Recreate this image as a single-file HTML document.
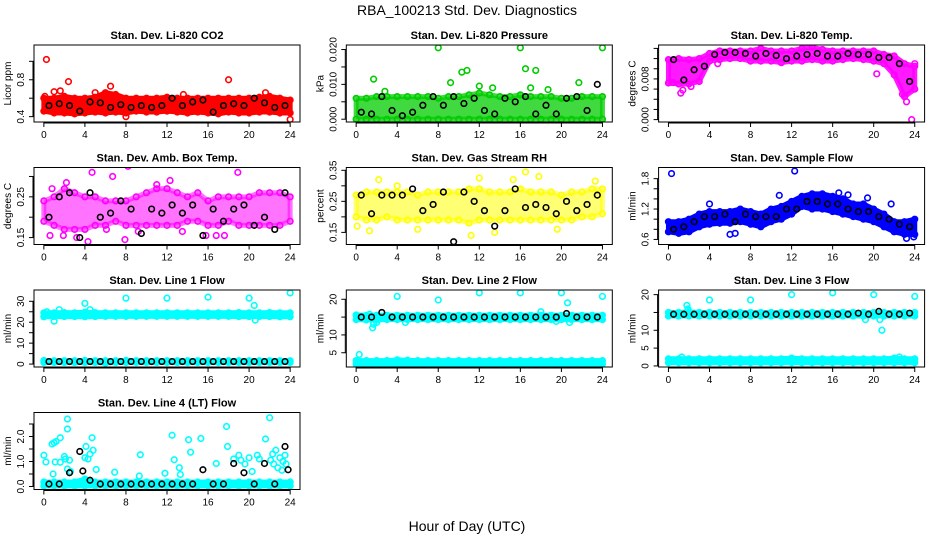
<!DOCTYPE html>
<html><head><meta charset="utf-8">
<style>
html,body{margin:0;padding:0;background:#fff;}
svg{display:block;font-family:"Liberation Sans",sans-serif;}
</style></head>
<body>
<svg id="chart" width="936" height="540" viewBox="0 0 936 540" xmlns="http://www.w3.org/2000/svg">
<rect x="0" y="0" width="936" height="540" fill="#fff"/>
<text x="467" y="15" text-anchor="middle" font-size="14">RBA_100213  Std. Dev. Diagnostics</text>
<text x="467" y="531" text-anchor="middle" font-size="14">Hour of Day (UTC)</text>
</svg>
<script>
const hours = [0,1,2,3,4,5,6,7,8,9,10,11,12,13,14,15,16,17,18,19,20,21,22,23,24];
const blackHours = [0.5,1.5,2.5,3.5,4.5,5.5,6.5,7.5,8.5,9.5,10.5,11.5,12.5,13.5,14.5,15.5,16.5,17.5,18.5,19.5,20.5,21.5,22.5,23.5];
const xTicks = [0,4,8,12,16,20,24];

// Panel 1 CO2
const co2Hi = [0.6,0.6,0.62,0.6,0.6,0.61,0.66,0.64,0.6,0.6,0.6,0.6,0.61,0.6,0.6,0.6,0.6,0.6,0.6,0.6,0.6,0.61,0.62,0.6,0.58];
const co2Lo = [0.46,0.44,0.44,0.43,0.44,0.45,0.44,0.45,0.44,0.46,0.45,0.45,0.46,0.45,0.44,0.45,0.44,0.43,0.45,0.44,0.44,0.45,0.45,0.44,0.44];
const co2Black = [0.52,0.54,0.52,0.46,0.56,0.55,0.5,0.53,0.5,0.52,0.5,0.52,0.6,0.52,0.56,0.58,0.45,0.52,0.54,0.52,0.6,0.55,0.5,0.52];
const co2Out = [[0.25,1.02],[2.4,0.78],[18,0.8],[6.5,0.73],[1,0.67],[1.6,0.68],[0.1,0.62],[8,0.4],[24,0.37],[5,0.66],[21.6,0.66],[13.6,0.64]];
const co2Ticks = [0.4,0.6,0.8,1.0];
const co2Labels = [0.4,0.8];

// Panel 2 Pressure
const presHi = [0.006,0.006,0.0065,0.0065,0.0065,0.0065,0.0065,0.0065,0.006,0.0065,0.0065,0.007,0.0075,0.007,0.0065,0.0065,0.007,0.0065,0.0065,0.0065,0.006,0.006,0.0065,0.0065,0.0065];
const presLo = [0,0,0,0,0,0,0,0,0,0,0,0,0,0,0,0,0,0,0,0,0,0,0,0,0];
const presBlack = [0.002,0.0015,0.0065,0.0025,0.001,0.002,0.004,0.0065,0.004,0.0065,0.0045,0.006,0.0025,0.0015,0.006,0.005,0.0065,0.0015,0.004,0.0015,0.006,0.0065,0.0025,0.01];
const presOut = [[8,0.0205],[16,0.0205],[24,0.0205],[16.5,0.0145],[17.5,0.014],[10.3,0.0135],[10.8,0.014],[9.2,0.0105],[1.7,0.0115],[21.7,0.0105],[12,0.0095],[13.3,0.009],[17,0.009],[18.7,0.0085],[2.8,0.008]];
const presTicks = [0,0.005,0.01,0.015,0.02];
const presLabels = [0,0.01,0.02];

// Panel 3 Li-820 temp
const ltHi = [0.0118,0.012,0.0118,0.012,0.013,0.0135,0.0135,0.0135,0.0135,0.014,0.0135,0.0135,0.0135,0.014,0.0142,0.0138,0.0135,0.0135,0.0135,0.0135,0.0135,0.0128,0.0125,0.011,0.0105];
const ltLo = [0.0072,0.007,0.007,0.0075,0.0115,0.0118,0.012,0.012,0.0115,0.0115,0.0115,0.0112,0.0115,0.0115,0.0118,0.0115,0.0115,0.0118,0.012,0.0118,0.0115,0.011,0.0088,0.0045,0.006];
const ltBlack = [0.0118,0.0078,0.0098,0.0105,0.0128,0.0132,0.0132,0.013,0.0125,0.013,0.0126,0.012,0.0125,0.0128,0.013,0.0125,0.0125,0.013,0.0128,0.0128,0.0122,0.0122,0.011,0.0075];
const ltOut = [[23.7,0],[1.2,0.0052],[1.4,0.0058],[2.2,0.0065],[23.2,0.0035],[22.8,0.005],[0.4,0.0073],[4.8,0.011],[20.3,0.009],[24,0.011]];
const ltTicks = [0,0.002,0.004,0.006,0.008,0.01,0.012,0.014];
const ltLabels = [0,0.008];

// Panel 4 Amb box temp
const abHi = [0.24,0.25,0.27,0.26,0.25,0.25,0.24,0.24,0.24,0.25,0.26,0.27,0.27,0.26,0.25,0.26,0.24,0.25,0.25,0.25,0.25,0.26,0.26,0.26,0.25];
const abLo = [0.19,0.18,0.17,0.17,0.17,0.18,0.18,0.19,0.18,0.18,0.18,0.18,0.18,0.18,0.19,0.19,0.18,0.18,0.19,0.18,0.18,0.18,0.18,0.18,0.19];
const abBlack = [0.2,0.25,0.26,0.15,0.26,0.2,0.21,0.24,0.22,0.16,0.22,0.21,0.23,0.21,0.23,0.155,0.22,0.19,0.22,0.23,0.18,0.2,0.17,0.26];
const abOut = [[4.7,0.31],[6.7,0.3],[8.2,0.325],[18.9,0.31],[12.3,0.29],[2.2,0.285],[0.8,0.27],[11,0.28],[0.6,0.155],[1.9,0.155],[4.3,0.14],[7.9,0.145],[3.2,0.15],[9.2,0.165],[15.8,0.155],[16.8,0.155],[17.6,0.155],[13.5,0.165],[6.1,0.17]];
const abTicks = [0.15,0.2,0.25,0.3];
const abLabels = [0.15,0.25];

// Panel 5 RH
const rhHi = [0.27,0.28,0.28,0.28,0.28,0.28,0.27,0.28,0.28,0.28,0.28,0.29,0.29,0.28,0.28,0.28,0.29,0.28,0.28,0.28,0.27,0.28,0.28,0.29,0.29];
const rhLo = [0.2,0.19,0.19,0.2,0.19,0.19,0.19,0.19,0.19,0.19,0.19,0.18,0.19,0.19,0.19,0.19,0.19,0.19,0.19,0.19,0.19,0.19,0.2,0.2,0.21];
const rhBlack = [0.27,0.21,0.27,0.27,0.27,0.29,0.22,0.24,0.28,0.12,0.28,0.25,0.22,0.17,0.22,0.29,0.23,0.24,0.23,0.21,0.25,0.22,0.24,0.27];
const rhOut = [[16.5,0.345],[17.8,0.33],[12,0.325],[2.2,0.32],[23.3,0.315],[15.3,0.32],[1.3,0.155],[11.2,0.14],[13.5,0.15],[6,0.16],[19.6,0.16],[0.1,0.17],[4,0.3]];
const rhTicks = [0.15,0.2,0.25,0.3,0.35];
const rhLabels = [0.15,0.25,0.35];

// Panel 6 Sample flow
const sfHi = [0.95,0.95,1.0,1.1,1.15,1.15,1.15,1.2,1.15,1.1,1.2,1.25,1.35,1.45,1.5,1.5,1.45,1.4,1.3,1.3,1.2,1.1,0.95,0.95,1.0];
const sfLo = [0.75,0.72,0.75,0.85,0.9,0.92,0.92,0.95,0.9,0.85,0.95,1.0,1.1,1.25,1.2,1.2,1.15,1.1,1.05,1.0,0.95,0.85,0.75,0.7,0.7];
const sfBlack = [0.8,0.85,0.95,1.05,1.05,1.1,0.95,1.1,1.05,1.05,1.05,1.2,1.2,1.35,1.35,1.3,1.3,1.2,1.15,1.15,1.05,1.0,0.9,0.85];
const sfOut = [[0.3,1.9],[12.3,1.95],[10.8,1.47],[16.6,1.52],[17.5,1.48],[19.4,1.42],[21.7,1.3],[6,0.7],[6.5,0.72],[23.2,0.62],[23.9,0.65],[4,1.3]];
const sfTicks = [0.6,0.8,1.0,1.2,1.4,1.6,1.8];
const sfLabels = [0.6,1.2,1.8];

// Panel 7 Line 1
const l1Hi = [24.5,24.5,24.6,24.5,24.8,24.6,24.5,24.5,24.5,24.5,24.5,24.5,24.5,24.5,24.5,24.5,24.5,24.5,24.5,24.6,24.5,24.5,24.6,24.5,24.5];
const l1Lo = [22.6,22.7,22.7,22.7,22.6,22.7,22.8,22.8,22.8,22.8,22.8,22.8,22.8,22.8,22.8,22.8,22.8,22.8,22.8,22.7,22.7,22.7,22.7,22.6,22.6];
const l1Hi2 = [1.7,1.6,1.6,1.6,1.7,1.6,1.6,1.6,1.7,1.6,1.6,1.6,1.6,1.6,1.6,1.6,1.6,1.6,1.6,1.6,1.6,1.6,1.6,1.6,1.6];
const l1Lo2 = [0.8,0.8,0.8,0.8,0.8,0.8,0.5,0.8,0.8,0.8,0.8,0.8,0.8,0.8,0.8,0.8,0.8,0.8,0.8,0.8,0.8,0.8,0.8,0.8,0.8];
const l1Black = [1.2,1.2,1.2,1.2,1.2,1.2,1.2,1.2,1.2,1.2,1.2,1.2,1.2,1.2,1.2,1.2,1.2,1.2,1.2,1.2,1.2,1.2,1.2,1.2];
const l1Out = [[0.3,25],[1,20.5],[1.5,26],[4,29],[4.5,26],[8,31.5],[12,31.5],[16,32],[20,31.5],[20.5,28],[20.6,21],[24,34]];
const l1Ticks = [0,5,10,15,20,25,30];
const l1Labels = [0,10,20,30];

// Panel 8 Line 2
const l2Hi = [15.6,15.5,15.5,15.5,15.5,15.5,15.5,15.5,15.5,15.5,15.5,15.5,15.5,15.5,15.5,15.5,15.5,15.5,15.5,15.5,15.5,15.5,15.5,15.5,15.5];
const l2Lo = [14.3,14.2,14.2,14.3,14.3,14.3,14.3,14.3,14.3,14.3,14.3,14.3,14.3,14.3,14.3,14.3,14.3,14.3,14.3,14.3,14.3,14.3,14.3,14.3,14.3];
const l2Hi2 = [2.8,2.8,2.8,2.8,3.0,2.9,2.8,2.8,2.8,2.8,2.8,2.8,2.8,2.8,2.8,2.8,2.8,2.8,2.8,2.8,2.8,2.8,2.8,2.8,2.8];
const l2Lo2 = [1.8,1.8,1.8,1.8,1.8,1.8,1.8,1.8,1.8,1.8,1.8,1.8,1.8,1.8,1.8,1.8,1.8,1.8,1.8,1.8,1.8,1.8,1.8,1.8,1.8];
const l2Black = [15,15,16.3,15,15,15,15,15,15,15,15,15,15,15,15,15,15,15,15,15,16,15,15,15];
const l2Out = [[0.3,4.5],[1.6,12],[1.7,13],[2,13.5],[4,20.8],[4.8,13.5],[8,19.8],[12,21.8],[16,21.8],[18,16.5],[19.5,13.8],[20,21.8],[20.6,19],[20.8,13.5],[24,20.8],[0,15.5],[1.3,15.8]];
const l2Ticks = [5,10,15,20];
const l2Labels = [5,10,20];

// Panel 9 Line 3
const l3Hi = [15,15,15.2,15,15,15,15,15,15,15,15,15,15,15,15,15,15,15,15,15,15,15,15,15,15];
const l3Lo = [14,14,14,14,14,14,14,14,14,14,14,14,14,14,14,14,14,14,14,14,14,14,14,14,14];
const l3Hi2 = [2,2,2,2,2,2,2,2,2,2,2,2,2.2,2,2,2,2,2,2,2,2,2,2.2,2,2];
const l3Lo2 = [0.9,0.9,0.9,0.9,0.9,0.9,0.9,0.9,0.9,0.9,0.9,0.9,0.9,0.9,0.9,0.9,0.9,0.9,0.9,0.9,0.9,0.9,0.9,0.9,0.9];
const l3Black = [14.5,14.5,14.5,14.5,14.5,14.5,14.5,14.5,14.5,14.5,14.5,14.5,14.5,14.5,14.5,14.5,14.5,14.5,14.8,14.5,15.3,14.5,14.5,14.8];
const l3Out = [[1.8,17],[1.9,16],[4,18.5],[8,18.5],[12,20],[16,20.5],[20,20],[24,19.5],[20.8,10],[19.2,13],[20.6,13],[1.3,2.5],[22.5,2.5],[1.9,15.8]];
const l3Ticks = [0,5,10,15,20];
const l3Labels = [0,5,10,20];

// Panel 10 Line 4
const l4Hi = [0.18,0.18,0.18,0.18,0.3,0.18,0.18,0.18,0.18,0.18,0.18,0.18,0.18,0.18,0.18,0.18,0.18,0.18,0.18,0.18,0.18,0.18,0.18,0.18,0.18];
const l4Lo = [0.02,0.02,0.02,0.02,0.02,0.02,0.02,0.02,0.02,0.02,0.02,0.02,0.02,0.02,0.02,0.02,0.02,0.02,0.02,0.02,0.02,0.02,0.02,0.02,0.02];
const l4Black = [0.1,0.1,0.55,1.4,0.25,0.1,0.1,0.1,0.1,0.1,0.1,0.1,0.1,0.1,0.1,0.67,0.1,0.1,0.92,0.55,0.1,0.92,0.1,1.6];
const l4Out = [[0,1.25],[0.2,0.98],[0.8,1.7],[1,1.75],[1.2,1.8],[1.6,1.95],[0.9,0.5],[1.1,0.98],[1.6,0.97],[2,1.2],[2.1,1.1],[2.3,2.7],[2.3,2.3],[2.5,1.05],[2.3,0.7],[2.6,0.6],[4.1,1.6],[4.3,1.1],[4,1.15],[4.5,1.3],[4.7,1.95],[4.8,1.45],[5.1,0.68],[6.9,0.57],[9.3,0.42],[9.4,1.27],[11.8,0.53],[12.5,2.05],[12.7,1.07],[13.2,0.75],[13.3,0.48],[14.1,1.87],[14.3,1.37],[15.3,1.92],[16.8,0.92],[17.8,2.4],[17.9,1.6],[18.5,1.1],[19,1.25],[19.2,1.05],[19.6,0.9],[20,1.15],[20.3,0.6],[20.8,1.25],[21,1.1],[21.6,1.9],[22,2.75],[22.1,1.05],[22.4,0.9],[22.6,1.45],[22.8,0.75],[23,1.15],[23.3,1.0],[23.5,1.25],[23.6,0.9],[23.2,0.65],[22.3,1.3]];
const l4BlackOut = [[3.8,0.62],[23.8,0.67]];
const l4Ticks = [0,0.5,1.0,1.5,2.0,2.5];
const l4Labels = [0,1,2];

const panels = [
 {name:'co2',title:'Stan. Dev. Li-820 CO2',ylab:'Licor ppm',col:'#ff0000',op:1,ylim:[0.342,1.177],bands:[[co2Lo,co2Hi]],black:co2Black,out:co2Out,ticks:co2Ticks,labels:co2Labels,dec:1},
 {name:'pressure',title:'Stan. Dev. Li-820 Pressure',ylab:'kPa',col:'#00cc00',op:0.75,ylim:[-0.0008,0.0213],bands:[[presLo,presHi]],black:presBlack,out:presOut,ticks:presTicks,labels:presLabels,dec:3},
 {name:'li820-temp',title:'Stan. Dev. Li-820 Temp.',ylab:'degrees C',col:'#ff00ff',op:0.9,ylim:[-0.00047,0.01467],bands:[[ltLo,ltHi]],black:ltBlack,out:ltOut,ticks:ltTicks,labels:ltLabels,dec:3},
 {name:'amb-box-temp',title:'Stan. Dev. Amb. Box Temp.',ylab:'degrees C',col:'#ff00ff',op:0.55,ylim:[0.133,0.322],bands:[[abLo,abHi]],black:abBlack,out:abOut,ticks:abTicks,labels:abLabels,dec:2},
 {name:'gas-rh',title:'Stan. Dev. Gas Stream RH',ylab:'percent',col:'#ffff00',op:0.55,ylim:[0.111,0.359],bands:[[rhLo,rhHi]],black:rhBlack,out:rhOut,ticks:rhTicks,labels:rhLabels,dec:2},
 {name:'sample-flow',title:'Stan. Dev. Sample Flow',ylab:'ml/min',col:'#0000ff',op:1,ylim:[0.5,2.02],bands:[[sfLo,sfHi]],black:sfBlack,out:sfOut,ticks:sfTicks,labels:sfLabels,dec:1},
 {name:'line1-flow',title:'Stan. Dev. Line 1 Flow',ylab:'ml/min',col:'#00ffff',op:1,ylim:[-1.4,35.4],bands:[[l1Lo,l1Hi],[l1Lo2,l1Hi2]],black:l1Black,out:l1Out,ticks:l1Ticks,labels:l1Labels,dec:0},
 {name:'line2-flow',title:'Stan. Dev. Line 2 Flow',ylab:'ml/min',col:'#00ffff',op:1,ylim:[1.0,22.6],bands:[[l2Lo,l2Hi],[l2Lo2,l2Hi2]],black:l2Black,out:l2Out,ticks:l2Ticks,labels:l2Labels,dec:0},
 {name:'line3-flow',title:'Stan. Dev. Line 3 Flow',ylab:'ml/min',col:'#00ffff',op:1,ylim:[-0.3,21.3],bands:[[l3Lo,l3Hi],[l3Lo2,l3Hi2]],black:l3Black,out:l3Out,ticks:l3Ticks,labels:l3Labels,dec:0},
 {name:'line4-flow',title:'Stan. Dev. Line 4 (LT) Flow',ylab:'ml/min',col:'#00ffff',op:1,ylim:[-0.12,2.96],bands:[[l4Lo,l4Hi]],black:l4Black,out:l4Out,blackOut:l4BlackOut,ticks:l4Ticks,labels:l4Labels,dec:1}
];

const NS='http://www.w3.org/2000/svg';
const svg=document.getElementById('chart');
function mk(tag,attrs,parent){const e=document.createElementNS(NS,tag);for(const k in attrs)e.setAttribute(k,attrs[k]);parent.appendChild(e);return e;}

panels.forEach((p,i)=>{
  const c=i%3, r=Math.floor(i/3);
  const L=34+c*312.3, T=45+r*122.5, W=266, H=77;
  const xs=t=>L+W*(t+0.96)/25.92;
  const ys=v=>T+H-(v-p.ylim[0])/(p.ylim[1]-p.ylim[0])*H;
  const g=mk('g',{},svg);
  
  
  const clip=mk('clipPath',{id:'clip'+i},g);
  mk('rect',{x:L,y:T,width:W,height:H},clip);
  const pg=mk('g',{'clip-path':'url(#clip'+i+')'},g);
  p.bands.forEach((b,bi)=>{
    const lo=b[0],hi=b[1];
    let pts=hours.map((h,k)=>xs(h)+','+ys(hi[k]));
    pts=pts.concat(hours.slice().reverse().map((h,k)=>xs(h)+','+ys(lo[hours.length-1-k])));
    const poly=mk('polygon',{points:pts.join(' '),fill:p.col,'fill-opacity':p.op,stroke:p.col,'stroke-opacity':p.op,'stroke-width':5,'stroke-linejoin':'round'},pg);
    
    
    hours.forEach((h,k)=>{
      [hi[k],lo[k]].forEach(v=>{
        const cc=mk('circle',{cx:xs(h),cy:ys(v),r:2.8,fill:'none',stroke:p.col,'stroke-width':1.6},pg);
        
        
      });
    });
  });
  p.out.forEach(o=>{
    const cc=mk('circle',{cx:xs(o[0]),cy:ys(o[1]),r:2.8,fill:'none',stroke:p.col,'stroke-width':1.6},pg);
    
    
  });
  p.black.forEach((v,k)=>{
    const cc=mk('circle',{cx:xs(blackHours[k]),cy:ys(v),r:2.8,fill:'none',stroke:'#000','stroke-width':1.6},pg);
    
    
  });
  (p.blackOut||[]).forEach(o=>{
    const cc=mk('circle',{cx:xs(o[0]),cy:ys(o[1]),r:2.8,fill:'none',stroke:'#000','stroke-width':1.6},pg);
    
    
  });
  const fr=mk('rect',{x:L,y:T,width:W,height:H,fill:'none',stroke:'#000','stroke-width':1},g);
  
  
  const tt=mk('text',{x:L+W/2,y:T-6,'text-anchor':'middle','font-size':11,'font-weight':'bold'},g);
  tt.textContent=p.title;
  
  
  const xa=mk('g',{},g);
  
  
  mk('line',{x1:xs(0),x2:xs(24),y1:T+H+1,y2:T+H+1,stroke:'#000'},xa);
  xTicks.forEach(t=>{
    mk('line',{x1:xs(t),x2:xs(t),y1:T+H,y2:T+H+5,stroke:'#000'},xa);
    const lt=mk('text',{x:xs(t),y:T+H+16,'text-anchor':'middle','font-size':10},xa);
    lt.textContent=t;
  });
  const ya=mk('g',{},g);
  
  
  const y0=ys(p.ticks[0]), y1=ys(p.ticks[p.ticks.length-1]);
  mk('line',{x1:L-1,x2:L-1,y1:y0,y2:y1,stroke:'#000'},ya);
  p.ticks.forEach(t=>{mk('line',{x1:L-5,x2:L,y1:ys(t),y2:ys(t),stroke:'#000'},ya);});
  p.labels.forEach(t=>{
    const yy=ys(t), xx=L-10;
    const lt=mk('text',{x:xx,y:yy,'text-anchor':'middle','font-size':10,transform:'rotate(-90 '+xx+' '+yy+')'},ya);
    lt.textContent=t.toFixed(p.dec);
  });
  const xx=L-23, yy=T+H/2;
  const yl=mk('text',{x:xx,y:yy,'text-anchor':'middle','font-size':10,transform:'rotate(-90 '+xx+' '+yy+')'},g);
  yl.textContent=p.ylab;
  
  
});
</script>
</body></html>
